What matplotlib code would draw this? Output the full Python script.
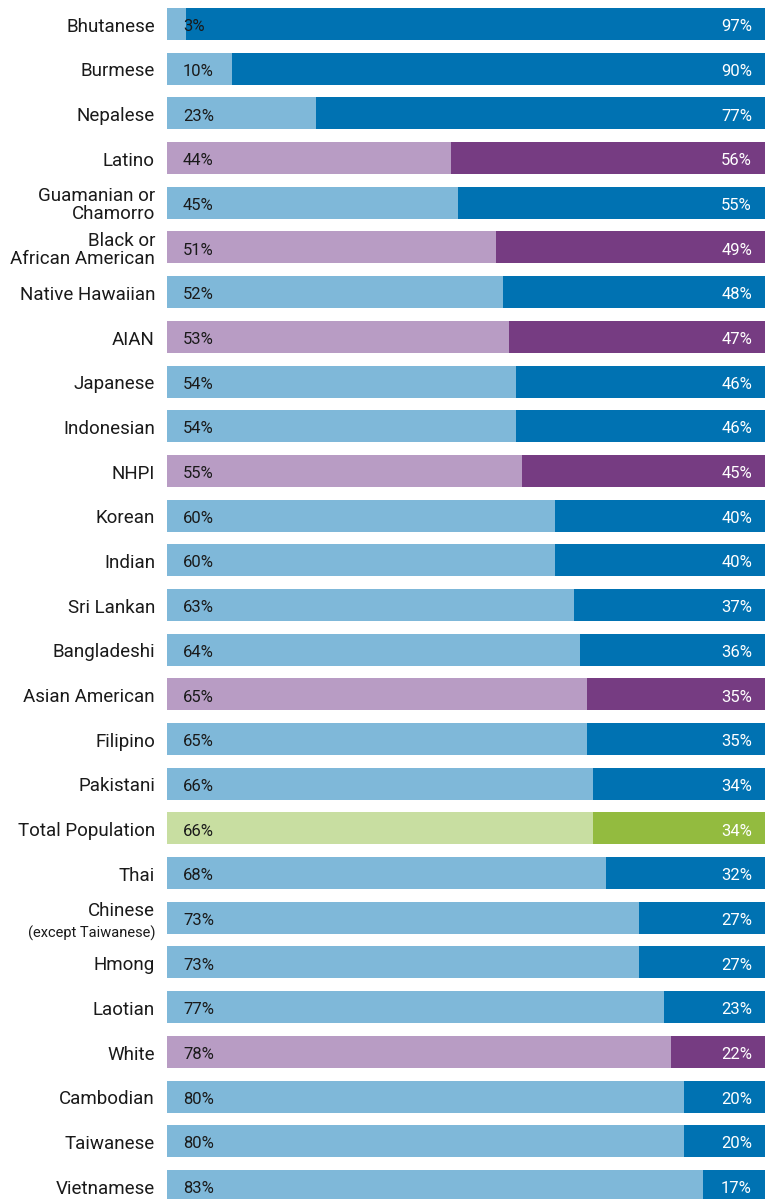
import matplotlib
matplotlib.use("Agg")
import matplotlib.pyplot as plt

categories = ["Bhutanese", "Burmese", "Nepalese", "Latino", "Guamanian or\nChamorro",
              "Black or\nAfrican American", "Native Hawaiian", "AIAN", "Japanese", "Indonesian",
              "NHPI", "Korean", "Indian", "Sri Lankan", "Bangladeshi", "Asian American",
              "Filipino", "Pakistani", "Total Population", "Thai", "Chinese",
              "Hmong", "Laotian", "White", "Cambodian", "Taiwanese", "Vietnamese"]
left_vals = [3, 10, 23, 44, 45, 51, 52, 53, 54, 54, 55, 60, 60, 63, 64, 65, 65, 66, 66, 68, 73,
             73, 77, 78, 80, 80, 83]
right_vals = [97, 90, 77, 56, 55, 49, 48, 47, 46, 46, 45, 40, 40, 37, 36, 35, 35, 34, 34, 32, 27,
              27, 23, 22, 20, 20, 17]
groups = ["asian", "asian", "asian", "race", "asian", "race", "asian", "race", "asian", "asian",
          "race", "asian", "asian", "asian", "asian", "race", "asian", "asian", "total", "asian",
          "asian", "asian", "asian", "race", "asian", "asian", "asian"]

palette = {
    "asian": ("#7fb8d9", "#0072b2"),
    "race": ("#b89cc4", "#763c82"),
    "total": ("#c8dea1", "#93bb3f"),
}

plt.rcParams['font.family'] = ['Roboto', 'DejaVu Sans']

fig = plt.figure(figsize=(7.65, 11.99), dpi=100)
ax = fig.add_axes([167 / 765, 0, 1 - 167 / 765, 1])

pitch = 44.69
h = 32 / pitch
top = -24 / pitch
bottom = top + 1199 / pitch
full_w = 646.0
xmax = 598 / full_w * 100
dy = 0.06
tr = ax.get_yaxis_transform()

for i, (cat, lv, rv, g) in enumerate(zip(categories, left_vals, right_vals, groups)):
    c1, c2 = palette[g]
    ax.barh(i, lv, height=h, left=0, color=c1, linewidth=0)
    ax.barh(i, rv, height=h, left=lv, color=c2, linewidth=0)
    ax.text(16 / 598, i + dy, f"{lv}%", ha="left", va="center", fontsize=12, color="#1a1a1a",
            transform=tr)
    ax.text(585 / 598, i + dy, f"{rv}%", ha="right", va="center", fontsize=12, color="white",
            transform=tr)
    if cat == "Chinese":
        ax.text(-12 / 598, i - 0.15, cat, ha="right", va="center", fontsize=13.5, color="#1a1a1a",
                transform=tr, clip_on=False)
        ax.text(-12 / 598, i + 0.34, "(except Taiwanese)", ha="right", va="center", fontsize=10.5,
                color="#1a1a1a", transform=tr, clip_on=False)
    else:
        ax.text(-12 / 598, i + dy, cat, ha="right", va="center", fontsize=13.5, color="#1a1a1a",
                linespacing=1.0, transform=tr, clip_on=False)

ax.set_xlim(0, xmax)
ax.set_ylim(bottom, top)
ax.axis("off")

fig.savefig("out.png", dpi=100)
